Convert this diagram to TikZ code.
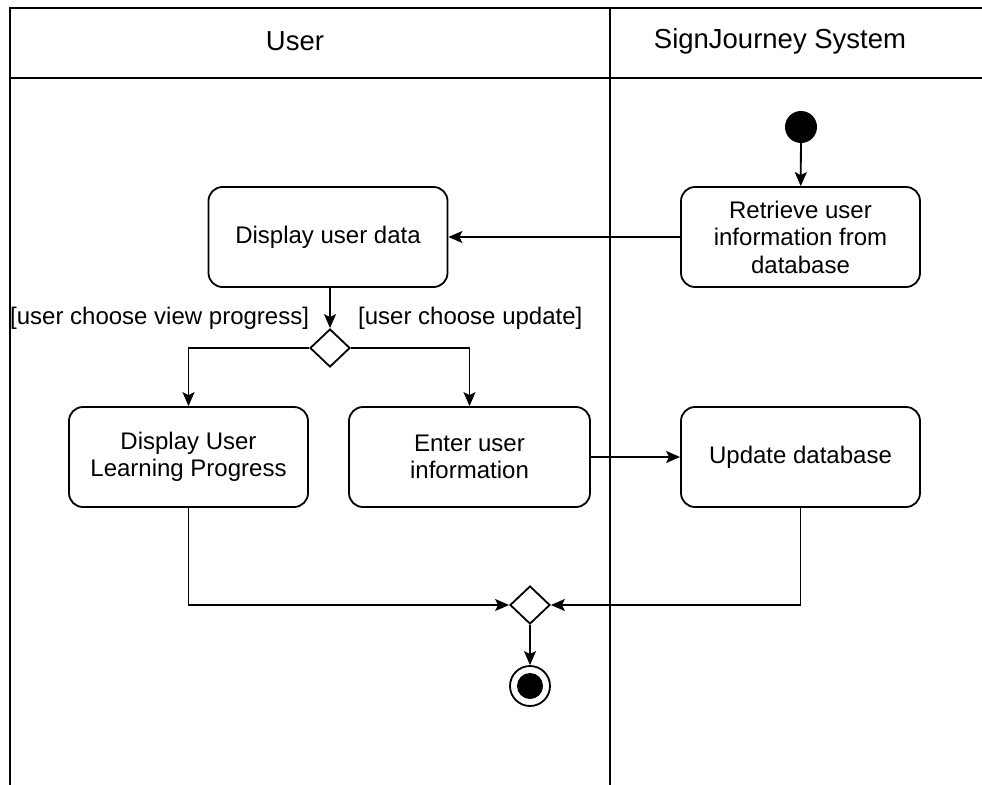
\documentclass[tikz,border=0pt]{standalone}
\usepackage{fontspec}
\setmainfont{Liberation Sans}
\usetikzlibrary{arrows.meta,shapes.geometric}
\begin{document}
\begin{tikzpicture}[x=1pt,y=-1pt,
  every node/.style={font=\fontsize{24}{27.5}\selectfont},
  lanehead/.style={font=\fontsize{27.5}{30}\selectfont},
  line/.style={line width=1.8pt},
  flow/.style={line width=1.8pt,-{Stealth[length=14pt,width=12pt,inset=3pt]}},
  action/.style={draw,line width=1.8pt,rounded corners=14pt,minimum width=239pt,minimum height=100pt,align=center,inner sep=0pt},
  choice/.style={draw,line width=1.8pt,diamond,minimum width=40pt,minimum height=38pt,inner sep=0pt,fill=white}]
\useasboundingbox (0,0) rectangle (982,784);
% swimlane frame (open to the right and below)
\draw[line] (990,8) -- (10,8) -- (10,790);
\draw[line] (10,78) -- (990,78);
\draw[line] (610,8) -- (610,790);
\node[lanehead] at (295,41) {User};
\node[lanehead] at (780,41) {SignJourney System};
% nodes
\node[circle,fill=black,minimum size=32pt,inner sep=0pt] (start) at (801,127) {};
\node[action] (retrieve) at (800.5,237) {Retrieve user\\information from\\database};
\node[action] (display) at (328,237) {Display user data};
\node[choice] (split) at (330,348) {};
\node[action] (progress) at (188.5,457) {Display User\\Learning Progress};
\node[action,minimum width=241pt] (enter) at (469.5,457) {Enter user\\information};
\node[action] (update) at (800.5,457) {Update database};
\node[choice] (merge) at (530,605) {};
\node[circle,draw,line width=1.8pt,minimum size=40pt,inner sep=0pt] (final) at (530,686) {};
\node[circle,fill=black,minimum size=26pt,inner sep=0pt] at (final) {};
% guard labels
\node[anchor=west,inner sep=0pt] at (10,318) {[user choose view progress]};
\node[anchor=west,inner sep=0pt] at (358,318) {[user choose update]};
% connectors
\draw[flow] (start) -- (retrieve);
\draw[flow] (retrieve) -- (display);
\draw[flow] (display.south -| split.north) -- (split.north);
\draw[flow] (split.west) -| (progress.north);
\draw[flow] (split.east) -| (enter.north);
\draw[flow] (enter) -- (update);
\draw[flow] (progress.south) |- (merge.west);
\draw[flow] (update.south) |- (merge.east);
\draw[flow] (merge.south) -- (final.north);
\end{tikzpicture}
\end{document}
